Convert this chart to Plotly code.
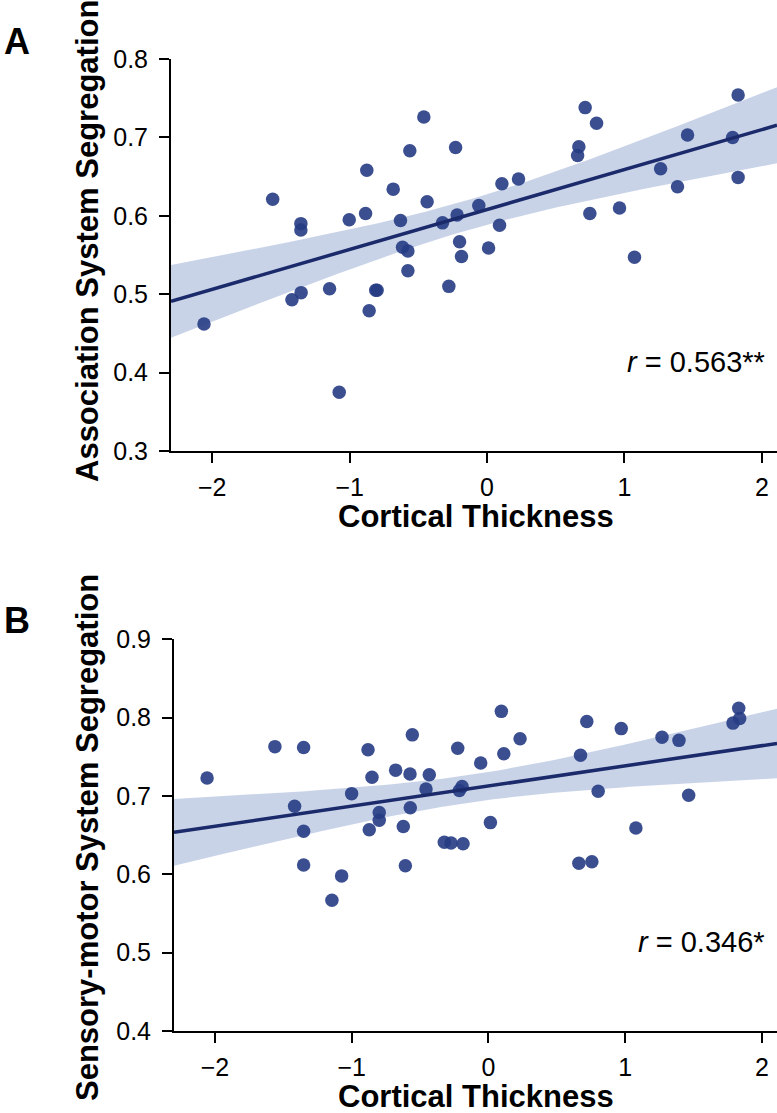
import numpy as np
import plotly.graph_objects as go

# ---- data ----
thickness_a = [-2.06, -1.56, -1.42, -1.355, -1.355, -1.353, -1.146, -1.076, -1.003, -0.884,
               -0.875, -0.858, -0.81, -0.80, -0.683, -0.630, -0.615, -0.576, -0.576, -0.562,
               -0.460, -0.436, -0.324, -0.278, -0.229, -0.218, -0.200, -0.186, -0.060, 0.011,
               0.091, 0.108, 0.229, 0.659, 0.668, 0.714, 0.748, 0.797, 0.964, 1.073,
               1.263, 1.386, 1.459, 1.787, 1.827, 1.827]
assoc_seg = [0.462, 0.621, 0.493, 0.590, 0.582, 0.502, 0.507, 0.375, 0.595, 0.603,
             0.658, 0.479, 0.505, 0.505, 0.634, 0.594, 0.560, 0.555, 0.530, 0.683,
             0.726, 0.618, 0.591, 0.510, 0.687, 0.601, 0.567, 0.548, 0.613, 0.559,
             0.588, 0.641, 0.647, 0.677, 0.688, 0.738, 0.603, 0.718, 0.610, 0.547,
             0.660, 0.637, 0.703, 0.700, 0.754, 0.649]

thickness_b = [-2.058, -1.562, -1.418, -1.352, -1.352, -1.352, -1.145, -1.074, -1.001, -0.881,
               -0.872, -0.852, -0.799, -0.799, -0.679, -0.623, -0.608, -0.574, -0.572, -0.557,
               -0.457, -0.433, -0.323, -0.274, -0.225, -0.213, -0.193, -0.186, -0.057, 0.014,
               0.094, 0.112, 0.231, 0.661, 0.673, 0.719, 0.756, 0.802, 0.971, 1.078,
               1.269, 1.393, 1.464, 1.788, 1.830, 1.837]
sensmot_seg = [0.723, 0.763, 0.687, 0.762, 0.655, 0.612, 0.567, 0.598, 0.703, 0.759,
               0.657, 0.724, 0.679, 0.669, 0.733, 0.661, 0.611, 0.728, 0.685, 0.778,
               0.709, 0.727, 0.641, 0.640, 0.761, 0.707, 0.712, 0.639, 0.742, 0.666,
               0.808, 0.754, 0.773, 0.614, 0.752, 0.795, 0.616, 0.706, 0.786, 0.659,
               0.775, 0.771, 0.701, 0.793, 0.812, 0.799]

r_labels = ["<i>r</i> = 0.563**", "<i>r</i> = 0.346*"]
x_title = "Cortical Thickness"
y_titles = ["Association System Segregation", "Sensory-motor System Segregation"]
panel_letters = ["A", "B"]
x_ticks = [-2, -1, 0, 1, 2]
x_ticktext = ["\u22122", "\u22121", "0", "1", "2"]
y_ticks_a = [0.3, 0.4, 0.5, 0.6, 0.7, 0.8]
y_ticks_b = [0.4, 0.5, 0.6, 0.7, 0.8, 0.9]

# ---- styling ----
W, H = 777, 1113
FONT = "Liberation Sans, Arial, sans-serif"
PT_COLOR = "#263c84"
LINE_COLOR = "#1b2a6b"
BAND_COLOR = "rgba(168,184,218,0.62)"
X_RANGE = [-2.30, 2.11]


def fit_with_ci(x, y, grid):
    x = np.asarray(x, float)
    y = np.asarray(y, float)
    n = len(x)
    b1, b0 = np.polyfit(x, y, 1)
    yhat = b0 + b1 * grid
    resid = y - (b0 + b1 * x)
    s = np.sqrt(np.sum(resid ** 2) / (n - 2))
    xm = x.mean()
    sxx = np.sum((x - xm) ** 2)
    t = 2.015  # t(0.975, 44)
    se = s * np.sqrt(1.0 / n + (grid - xm) ** 2 / sxx)
    return yhat, yhat - t * se, yhat + t * se


grid = np.linspace(X_RANGE[0], X_RANGE[1], 120)

fig = go.Figure()

panels = [
    dict(x=thickness_a, y=assoc_seg, xa="x", ya="y", yticks=y_ticks_a,
         yrange=[0.3, 0.8], xdom=[171 / W, 1.0], ydom=[1 - 451 / H, 1 - 59 / H]),
    dict(x=thickness_b, y=sensmot_seg, xa="x2", ya="y2", yticks=y_ticks_b,
         yrange=[0.4, 0.9], xdom=[174 / W, 1.0], ydom=[1 - 1031 / H, 1 - 639.3 / H]),
]

for p in panels:
    yhat, lo, hi = fit_with_ci(p["x"], p["y"], grid)
    fig.add_trace(go.Scatter(
        x=np.concatenate([grid, grid[::-1]]),
        y=np.concatenate([hi, lo[::-1]]),
        fill="toself", fillcolor=BAND_COLOR, line=dict(width=0),
        mode="lines", hoverinfo="skip", showlegend=False,
        xaxis=p["xa"], yaxis=p["ya"]))
    fig.add_trace(go.Scatter(
        x=p["x"], y=p["y"], mode="markers",
        marker=dict(size=13.5, color=PT_COLOR, opacity=0.9, line=dict(width=0)),
        showlegend=False, xaxis=p["xa"], yaxis=p["ya"]))
    fig.add_trace(go.Scatter(
        x=grid, y=yhat, mode="lines",
        line=dict(color=LINE_COLOR, width=3.5),
        showlegend=False, xaxis=p["xa"], yaxis=p["ya"]))

axis_common = dict(
    showline=True, linecolor="black", linewidth=2,
    ticks="outside", ticklen=10, tickwidth=2, tickcolor="black",
    showgrid=False, zeroline=False, mirror=False,
    tickfont=dict(family=FONT, size=25, color="black"),
)

fig.update_layout(
    xaxis=dict(domain=panels[0]["xdom"], range=X_RANGE, tickvals=x_ticks,
               ticktext=x_ticktext, anchor="y", ticklabelstandoff=3, **axis_common),
    yaxis=dict(domain=panels[0]["ydom"], range=panels[0]["yrange"],
               tickvals=y_ticks_a, ticktext=[f"{v:.1f}" for v in y_ticks_a],
               anchor="x", ticklabelstandoff=6, **axis_common),
    xaxis2=dict(domain=panels[1]["xdom"], range=X_RANGE, tickvals=x_ticks,
                ticktext=x_ticktext, anchor="y2", ticklabelstandoff=3, **axis_common),
    yaxis2=dict(domain=panels[1]["ydom"], range=panels[1]["yrange"],
                tickvals=y_ticks_b, ticktext=[f"{v:.1f}" for v in y_ticks_b],
                anchor="x2", ticklabelstandoff=6, **axis_common),
    width=W, height=H,
    margin=dict(l=0, r=0, t=0, b=0, autoexpand=False),
    paper_bgcolor="white", plot_bgcolor="white",
    showlegend=False,
)

title_font = dict(family=FONT, size=31, color="black", weight="bold")
ann = []
# x titles
for yc in (516, 1096):
    ann.append(dict(text=x_title, x=476 / W, y=1 - yc / H, xref="paper", yref="paper",
                    xanchor="center", yanchor="middle", showarrow=False, font=title_font))
# y titles
for txt, yc in zip(y_titles, (241, 838)):
    ann.append(dict(text=txt, x=87 / W, y=1 - yc / H, xref="paper", yref="paper",
                    xanchor="center", yanchor="middle", showarrow=False, textangle=-90,
                    font=title_font))
# r labels
for txt, yc in zip(r_labels, (362, 942)):
    ann.append(dict(text=txt, x=767 / W, y=1 - yc / H, xref="paper", yref="paper",
                    xanchor="right", yanchor="middle", showarrow=False,
                    font=dict(family=FONT, size=29, color="black")))
# panel letters
for txt, yc in zip(panel_letters, (42, 620)):
    ann.append(dict(text=txt, x=17 / W, y=1 - yc / H, xref="paper", yref="paper",
                    xanchor="center", yanchor="middle", showarrow=False,
                    font=dict(family=FONT, size=36, color="black", weight="bold")))
fig.update_layout(annotations=ann)

fig.write_html("out.html", config={"displayModeBar": False},
               post_script="document.body.style.margin='0px';")
